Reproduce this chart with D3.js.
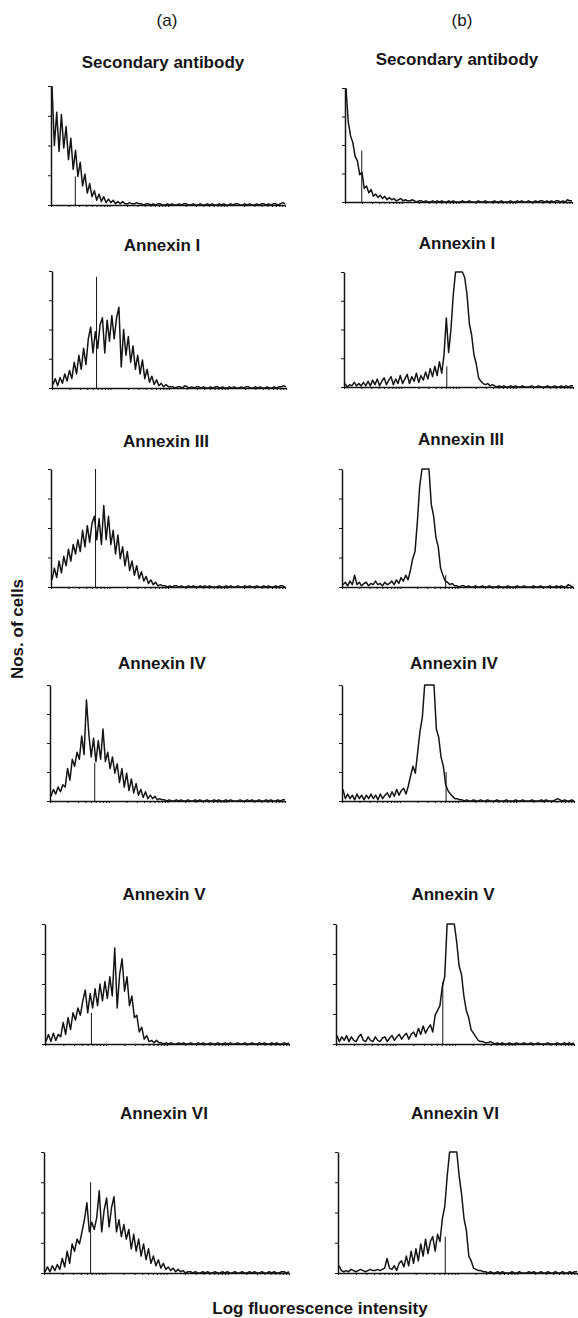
<!DOCTYPE html>
<html><head><meta charset="utf-8">
<script src="https://cdn.jsdelivr.net/npm/d3@7"></script>
<style>
body{margin:0;background:#fff}
svg{display:block}
text{font-family:"Liberation Sans",Arial,Helvetica,sans-serif;font-weight:bold;fill:#151515}
</style>
</head><body>
<svg id="c" width="578" height="1318"></svg>
<script>
// ---------- DATA ----------
const columnLabels = ["(a)", "(b)"];
const panelTitles = ["Secondary antibody", "Annexin I", "Annexin III", "Annexin IV", "Annexin V", "Annexin VI"];
const xLabel = "Log fluorescence intensity";
const yLabel = "Nos. of cells";
const yTicks = [0, 25, 50, 75, 100];
const logDomain = [1, 10000];

// histogram counts (% of full scale) per channel, column (a)
const secondaryA = [100,50,78,45,76,48,66,38,56,30, 46,24,36,16,26,10,18,7,12,4, 9,3,7,2,5,2,4,1,3,1, 3,1,1,2,1,1,2,1,1,0, 1,1,0,1,0,1,1,0,0,1, 0,1,0,0,1,0,1,1,0,0, 1,0,0,1,0,0,1,0,1,0, 0,1,0,1,0,0,1,0,1,1, 0,0,1,0,1,0,0,1,0,1, 1,0,1,0,1,1,0,1,2,1];
const annexinIA = [3,8,2,9,4,12,6,15,8,22, 12,28,16,34,20,42,52,30,48,34, 54,60,30,58,40,62,42,60,69,18, 50,28,44,22,36,16,28,12,24,8, 16,5,10,3,7,2,4,1,3,1, 1,1,0,1,1,0,2,1,0,1, 0,1,1,0,1,0,0,1,0,1, 1,0,1,0,0,1,0,1,0,0, 1,0,1,1,0,0,1,0,1,0, 0,1,0,0,1,0,1,1,2,1];
const annexinIIIA = [6,16,8,22,12,26,18,32,22,36, 28,40,30,48,34,52,38,54,60,40, 58,36,69,40,60,36,48,28,44,24, 34,18,30,14,22,10,18,7,13,5, 9,3,6,2,4,1,2,1,1,0, 1,0,1,1,0,1,0,0,1,0, 1,0,0,1,0,1,0,1,0,0, 0,1,0,0,1,0,1,0,0,1, 0,0,1,0,1,0,0,1,0,0, 1,0,1,0,0,1,0,1,1,0];
const annexinIVA = [4,10,6,12,8,14,12,28,18,36, 30,42,36,56,40,87,58,38,54,34, 52,36,62,34,42,28,38,24,32,16, 28,12,24,9,19,7,15,5,10,3, 8,2,5,2,4,1,2,1,1,0, 1,0,0,1,0,1,0,0,1,0, 0,1,0,1,0,0,1,0,0,1, 0,1,0,0,1,0,1,0,0,0, 1,0,0,1,0,1,0,0,1,0, 0,1,0,1,0,0,1,0,1,1];
const annexinVA = [2,8,2,9,3,8,6,18,8,22, 12,26,20,30,24,36,45,26,42,30, 46,32,50,36,52,38,56,40,80,30, 58,71,44,56,32,40,22,24,10,14, 4,7,2,3,1,3,1,1,0,1, 0,1,0,0,1,0,1,0,0,1, 0,0,1,0,1,0,0,1,0,0, 1,0,0,1,0,1,0,0,1,0, 0,1,0,0,1,0,0,1,0,1, 0,0,1,0,1,0,0,1,0,1];
const annexinVIA = [1,5,1,6,2,7,3,12,5,18, 8,24,18,28,24,34,44,58,34,42, 36,46,68,34,52,62,38,54,63,34, 44,30,40,28,36,20,32,18,28,14, 24,11,20,8,14,6,11,4,8,3, 5,2,4,1,3,1,2,0,1,1, 0,1,0,0,1,0,1,0,0,1, 0,0,1,0,1,0,0,1,0,0, 1,0,0,1,0,1,0,0,1,0, 0,1,0,1,0,0,1,1,0,1];

// column (b)
const secondaryB = [100,70,58,52,40,36,24,26,12,14, 8,11,5,7,4,6,3,5,2,4, 2,3,1,2,3,1,2,1,1,2, 1,0,1,1,0,1,0,0,1,0, 1,0,1,0,0,1,0,1,0,0, 0,1,0,0,1,0,0,0,1,0, 0,1,0,0,0,1,0,0,1,0, 0,0,1,0,0,1,0,1,0,0, 1,0,0,1,0,1,1,0,1,0, 1,0,1,1,0,1,0,2,1,1];
const annexinIB = [3,0,2,1,4,1,3,1,4,1, 5,1,6,2,7,1,5,8,2,6, 9,2,7,3,10,3,7,11,3,9, 5,12,4,10,6,13,7,16,9,18, 10,22,12,28,60,30,50,80,100,100, 100,100,95,80,55,45,28,20,8,5, 3,2,3,1,2,1,0,1,0,1, 0,0,1,0,1,0,0,1,0,0, 0,1,0,0,1,0,0,0,1,0, 0,1,0,0,1,0,1,0,1,1];
const annexinIIIB = [2,4,1,5,2,10,2,4,1,3, 4,1,3,2,5,2,3,1,4,2, 3,5,2,6,3,8,5,10,6,14, 24,30,55,85,100,100,100,100,70,60, 42,34,16,10,5,4,2,3,1,1, 0,1,1,0,1,0,0,1,0,0, 1,0,0,1,0,0,0,1,0,0, 0,1,0,0,0,1,0,0,1,0, 0,0,1,0,0,1,0,0,0,1, 0,0,1,0,1,0,0,2,1,0];
const annexinIVB = [10,2,6,2,5,1,6,2,5,1, 5,2,6,2,5,1,6,2,5,7, 3,8,4,10,5,9,11,6,13,22, 30,24,42,60,72,100,100,100,100,100, 62,55,38,30,14,9,6,4,2,2, 1,1,0,1,0,0,1,0,0,1, 0,0,1,0,0,0,1,0,0,0, 1,0,0,0,1,0,0,1,0,0, 0,1,0,0,0,1,0,1,0,0, 0,1,2,1,0,1,0,0,1,0];
const annexinVB = [7,2,6,3,7,2,6,3,2,6, 8,3,2,6,3,2,6,3,2,5, 6,2,5,7,3,6,8,4,7,9, 4,8,10,6,13,8,15,9,13,16, 10,24,28,32,48,56,100,100,100,100, 85,65,58,40,28,22,12,9,6,3, 2,2,1,1,2,1,0,1,0,1, 0,0,1,0,0,1,0,0,1,0, 0,1,0,0,1,0,0,0,1,0, 0,0,1,0,0,1,0,1,0,1];
const annexinVIB = [6,2,1,2,1,3,2,1,2,3, 2,1,2,3,2,2,3,2,3,4, 12,4,3,6,2,8,10,5,14,6, 18,8,20,10,24,14,28,16,26,30, 18,32,26,45,55,80,100,100,100,100, 80,65,45,35,14,10,4,3,2,2, 1,1,0,1,0,0,1,0,1,0, 0,0,1,0,0,1,0,0,0,1, 0,1,0,0,1,0,0,1,0,0, 1,0,0,1,0,0,1,0,1,1];

// cursor line per panel: channel and height
const markerChannelA = [9.9, 18.5, 18.5, 18.5, 18.5, 18.5];
const markerHeightA = [24, 95, 100, 33, 26, 75];
const markerChannelB = [6.9, 44.2, 44.2, 44.2, 44.2, 44.2];
const markerHeightB = [45, 18, 10, 25, 52, 30];

const seriesA = [secondaryA, annexinIA, annexinIIIA, annexinIVA, annexinVA, annexinVIA];
const seriesB = [secondaryB, annexinIB, annexinIIIB, annexinIVB, annexinVB, annexinVIB];

// ---------- LAYOUT ----------
const boxesA = [
  {x0:51,x1:285,y0:86,y1:205},{x0:52,x1:286,y0:271,y1:388},{x0:51,x1:285,y0:469,y1:587},
  {x0:50,x1:285,y0:685,y1:801},{x0:45,x1:289,y0:924,y1:1044},{x0:44,x1:289,y0:1152,y1:1273}];
const boxesB = [
  {x0:345,x1:572,y0:88,y1:202},{x0:344,x1:573,y0:272,y1:387},{x0:342,x1:573,y0:469,y1:587},
  {x0:342,x1:574,y0:685,y1:801},{x0:336,x1:574,y0:924,y1:1044},{x0:338,x1:577,y0:1152,y1:1273}];
const titlePosA = [[163,62],[162,245],[166,441],[162,663],[164,894],[164,1113]];
const titlePosB = [[457,59],[457,243],[461,439],[454,663],[453,894],[455,1113]];
const colLabelPos = [[167,20],[462,20]];

const svg = d3.select("#c");
const ink = "#151515";

function panel(box, counts, mCh, mH) {
  const g = svg.append("g");
  const x = d3.scaleLinear().domain([0, counts.length - 1]).range([box.x0 + 1, box.x1]);
  const xl = d3.scaleLog().domain(logDomain).range([box.x0, box.x1]);
  const y = d3.scaleLinear().domain([0, 100]).range([box.y1, box.y0]);

  const xa = g.append("g").attr("transform", `translate(0,${box.y1})`)
    .call(d3.axisBottom(xl).tickValues(xl.ticks()).tickFormat("").tickSize(2).tickSizeOuter(0));
  const ya = g.append("g").attr("transform", `translate(${box.x0},0)`)
    .call(d3.axisLeft(y).tickValues(yTicks).tickFormat("").tickSize(3).tickSizeOuter(0));
  [xa, ya].forEach(a => {
    a.select(".domain").attr("stroke", ink).attr("stroke-width", 1.5);
    a.selectAll(".tick line").attr("stroke", ink).attr("stroke-width", 1);
  });

  g.append("path").datum(counts)
    .attr("fill", "none").attr("stroke", ink).attr("stroke-width", 1.5)
    .attr("stroke-linejoin", "round")
    .attr("d", d3.line().x((d, i) => x(i)).y(d => y(d)));

  g.append("line")
    .attr("x1", x(mCh)).attr("x2", x(mCh))
    .attr("y1", y(0)).attr("y2", y(mH))
    .attr("stroke", ink).attr("stroke-width", 1);
}

seriesA.forEach((s, i) => panel(boxesA[i], s, markerChannelA[i], markerHeightA[i]));
seriesB.forEach((s, i) => panel(boxesB[i], s, markerChannelB[i], markerHeightB[i]));

const fs = 17;
columnLabels.forEach((t, i) => svg.append("text").attr("x", colLabelPos[i][0]).attr("y", colLabelPos[i][1])
  .attr("dy", "0.35em").attr("text-anchor", "middle").attr("font-size", fs).style("font-weight", "normal").text(t));
panelTitles.forEach((t, i) => {
  svg.append("text").attr("x", titlePosA[i][0]).attr("y", titlePosA[i][1]).attr("dy", "0.35em")
    .attr("text-anchor", "middle").attr("font-size", fs).text(t);
  svg.append("text").attr("x", titlePosB[i][0]).attr("y", titlePosB[i][1]).attr("dy", "0.35em")
    .attr("text-anchor", "middle").attr("font-size", fs).text(t);
});
svg.append("text").attr("x", 320).attr("y", 1308).attr("dy", "0.35em")
  .attr("text-anchor", "middle").attr("font-size", fs).text(xLabel);
svg.append("text").attr("transform", "translate(17,629) rotate(-90)").attr("dy", "0.35em")
  .attr("text-anchor", "middle").attr("font-size", fs).text(yLabel);
</script>
</body></html>
